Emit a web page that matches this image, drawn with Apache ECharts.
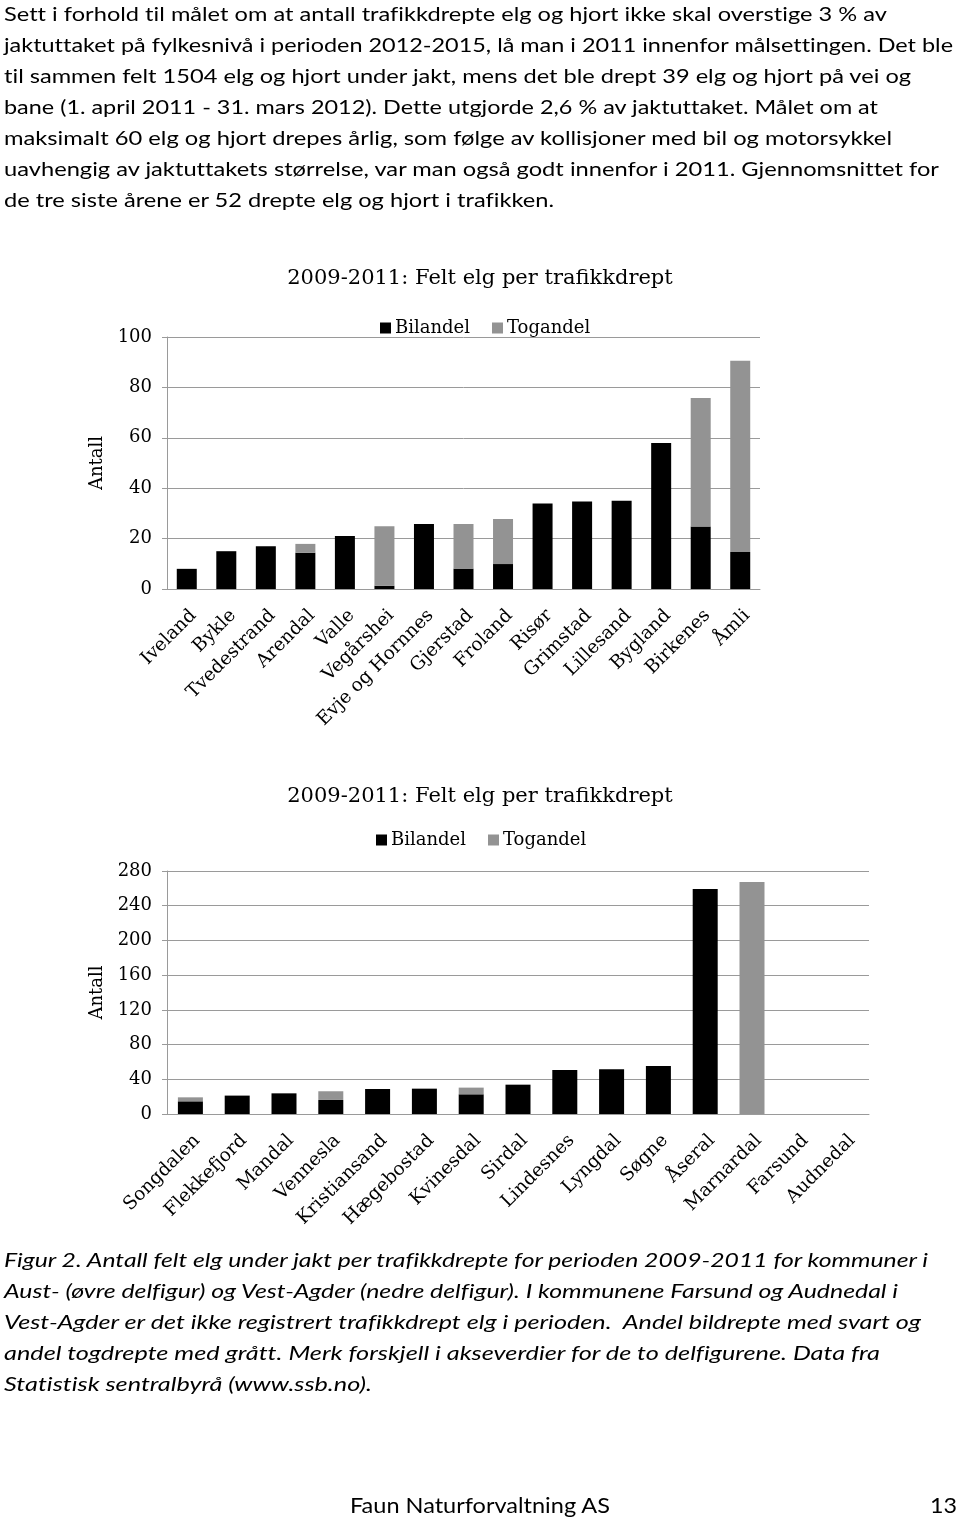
<!DOCTYPE html>
<html><head><meta charset="utf-8">
<script src="https://cdn.jsdelivr.net/npm/echarts@6/dist/echarts.min.js"></script>
<style>
html,body{margin:0;padding:0;background:#fff;}
#page{position:relative;width:960px;height:1521px;overflow:hidden;background:#fff;}
#chart{position:absolute;left:0;top:0;width:960px;height:1521px;}
.ln{position:absolute;white-space:nowrap;color:#000;transform-origin:0 0;line-height:normal;font-variant-ligatures:none;font-feature-settings:"liga" 0;}
</style></head><body>
<div id="page"><div id="chart"></div></div>
<script>
// ---- Data ----
const catsAust = ["Iveland","Bykle","Tvedestrand","Arendal","Valle","Vegårshei","Evje og Hornnes","Gjerstad","Froland","Risør","Grimstad","Lillesand","Bygland","Birkenes","Åmli"];
const bilAust  = [8, 15, 17, 14.4, 21, 1.3, 25.8, 8.1, 9.9, 33.9, 34.7, 35, 57.9, 24.8, 14.7];
const togAust  = [0, 0, 0, 3.5, 0, 23.6, 0, 17.7, 17.9, 0, 0, 0, 0, 51, 75.9];

const catsVest = ["Songdalen","Flekkefjord","Mandal","Vennesla","Kristiansand","Hægebostad","Kvinesdal","Sirdal","Lindesnes","Lyngdal","Søgne","Åseral","Marnardal","Farsund","Audnedal"];
const bilVest  = [14.6, 21.2, 23.8, 16.2, 28.8, 29.2, 22.7, 33.8, 50.8, 51.5, 55.4, 259.2, 0, 0, 0];
const togVest  = [4.6, 0, 0, 10, 0, 0, 7.7, 0, 0, 0, 0, 0, 267.3, 0, 0];

const chartTitle = "2009-2011: Felt elg per trafikkdrept";
const seriesNames = ["Bilandel", "Togandel"];
const yName = "Antall";

const paraLines = [
 "Sett i forhold til målet om at antall trafikkdrepte elg og hjort ikke skal overstige 3 % av",
 "jaktuttaket på fylkesnivå i perioden 2012-2015, lå man i 2011 innenfor målsettingen. Det ble",
 "til sammen felt 1504 elg og hjort under jakt, mens det ble drept 39 elg og hjort på vei og",
 "bane (1. april 2011 - 31. mars 2012). Dette utgjorde 2,6 % av jaktuttaket. Målet om at",
 "maksimalt 60 elg og hjort drepes årlig, som følge av kollisjoner med bil og motorsykkel",
 "uavhengig av jaktuttakets størrelse, var man også godt innenfor i 2011. Gjennomsnittet for",
 "de tre siste årene er 52 drepte elg og hjort i trafikken."
];
const captionLines = [
 "Figur 2. Antall felt elg under jakt per trafikkdrepte for perioden 2009-2011 for kommuner i",
 "Aust- (øvre delfigur) og Vest-Agder (nedre delfigur). I kommunene Farsund og Audnedal i",
 "Vest-Agder er det ikke registrert trafikkdrept elg i perioden.  Andel bildrepte med svart og",
 "andel togdrepte med grått. Merk forskjell i akseverdier for de to delfigurene. Data fra",
 "Statistisk sentralbyrå (www.ssb.no)."
];
const footerLeft = "Faun Naturforvaltning AS";
const footerRight = "13";

// ---- Layout of page text ----
const page = document.getElementById('page');
function addLine(text, x, baseline, targetW, size, italic){
  const d = document.createElement('div');
  d.className = 'ln';
  d.style.fontFamily = 'Lato';
  d.style.fontSize = size + 'px';
  if (italic) d.style.fontStyle = 'italic';
  d.style.left = x + 'px';
  d.style.top = '0px';
  d.style.whiteSpace = 'pre';
  d.textContent = text;
  const m = document.createElement('span');
  m.style.display = 'inline-block'; m.style.width = '0'; m.style.height = '0'; m.style.verticalAlign = 'baseline';
  d.appendChild(m);
  page.appendChild(d);
  const b = m.offsetTop;
  d.style.top = (baseline - b) + 'px';
  const w = d.getBoundingClientRect().width;
  if (targetW && w > 0) d.style.transform = 'scaleX(' + (targetW / w) + ')';
}
const paraRight = [887, 953, 911, 878, 892, 939, 554];
paraLines.forEach((t, i) => addLine(t, 4, 20.7 + 31.1 * i, paraRight[i] - 4, 19.6, false));
const capRight = [928, 898, 921, 880, 372];
captionLines.forEach((t, i) => addLine(t, 4, 1266.5 + 31.2 * i, capRight[i] - 4, 20, true));
addLine(footerLeft, 350, 1513, 260, 21, false);
addLine(footerRight, 930, 1513, 27, 21, false);

// ---- Chart ----
const SERIF = 'DejaVu Serif';
const BLACK = '#000000', GRAY = '#939393', LINE = '#9a9a9a';
const chart = echarts.init(document.getElementById('chart'), null, {renderer: 'canvas'});

function titleCfg(top){
  return {text: chartTitle, left: 'center', top: top, padding: 0,
    textStyle: {fontFamily: SERIF, fontSize: 21, fontWeight: 'normal', color: '#000'}};
}
function legendCfg(left, top){
  return {data: seriesNames, left: left, top: top, padding: 0, itemGap: 22, itemWidth: 11, itemHeight: 11,
    icon: 'rect', selectedMode: false,
    textStyle: {fontFamily: SERIF, fontSize: 18, color: '#000', padding: [0,0,0,-1]}};
}
function xAxisCfg(gi, cats){
  return {type: 'category', gridIndex: gi, data: cats,
    axisLine: {show: true, lineStyle: {color: LINE, width: 1}},
    axisTick: {show: false},
    axisLabel: {interval: 0, rotate: 45, margin: 17, verticalAlign: 'top', fontFamily: SERIF, fontSize: 18.5, color: '#000'}};
}
function yAxisCfg(gi, max, interval){
  return {type: 'value', gridIndex: gi, min: 0, max: max, interval: interval,
    name: yName, nameLocation: 'middle', nameGap: 55, nameRotate: 90,
    nameTextStyle: {fontFamily: SERIF, fontSize: 18, color: '#000'},
    axisLine: {show: true, lineStyle: {color: LINE, width: 1}},
    axisTick: {show: true, length: 5, lineStyle: {color: LINE}},
    axisLabel: {margin: 15, fontFamily: SERIF, fontSize: 18, color: '#000'},
    splitLine: {show: true, lineStyle: {color: LINE, width: 1}}};
}

const option = {
  animation: false,
  backgroundColor: 'transparent',
  title: [titleCfg(268), titleCfg(786)],
  legend: [legendCfg(380, 319), legendCfg(376, 831)],
  grid: [
    {left: 167, right: 200, top: 337, bottom: 1521 - 589, containLabel: false},
    {left: 167, right: 91, top: 871, bottom: 1521 - 1114, containLabel: false}
  ],
  xAxis: [xAxisCfg(0, catsAust), xAxisCfg(1, catsVest)],
  yAxis: [yAxisCfg(0, 100, 20), yAxisCfg(1, 280, 40)],
  series: [
    {name: seriesNames[0], type: 'bar', stack: 'aust', xAxisIndex: 0, yAxisIndex: 0, data: bilAust, barWidth: 20, itemStyle: {color: BLACK}},
    {name: seriesNames[1], type: 'bar', stack: 'aust', xAxisIndex: 0, yAxisIndex: 0, data: togAust, barWidth: 20, itemStyle: {color: GRAY}},
    {name: seriesNames[0], type: 'bar', stack: 'vest', xAxisIndex: 1, yAxisIndex: 1, data: bilVest, barWidth: 25, itemStyle: {color: BLACK}},
    {name: seriesNames[1], type: 'bar', stack: 'vest', xAxisIndex: 1, yAxisIndex: 1, data: togVest, barWidth: 25, itemStyle: {color: GRAY}}
  ]
};
chart.setOption(option);
</script>
</body></html>
